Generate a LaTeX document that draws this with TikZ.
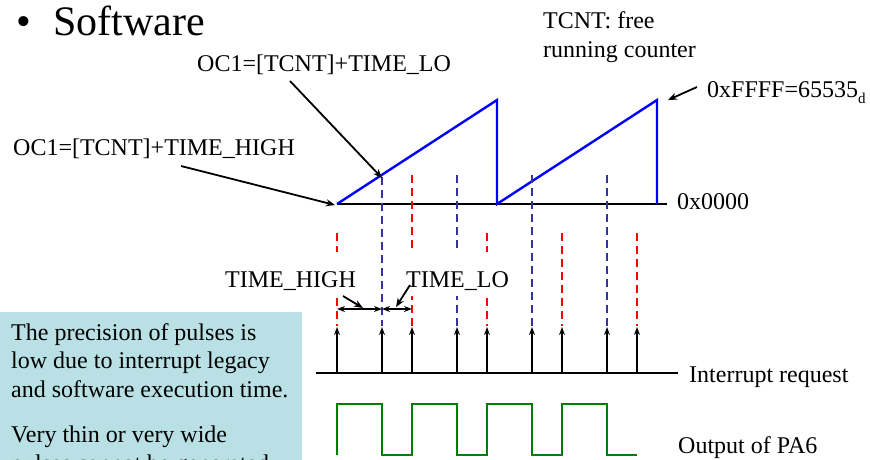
\documentclass[tikz,border=0pt]{standalone}
\usepackage{fontspec}
\setmainfont{Liberation Serif}
\usetikzlibrary{arrows.meta}
\definecolor{boxbg}{RGB}{185,224,228}
\definecolor{sawblue}{RGB}{0,0,255}
\definecolor{dblue}{RGB}{51,51,153}
\definecolor{dred}{RGB}{255,0,0}
\definecolor{wgreen}{RGB}{0,128,0}
\tikzset{
  lbl/.style={font=\fontsize{24}{28.5}\selectfont, inner sep=0pt, anchor=base west, align=left},
  dimlbl/.style={lbl, fill=white, inner xsep=1pt, text height=35pt, text depth=9pt},
  ptr/.style={draw=black, line width=1.8pt, -{Stealth[length=9pt,width=7pt]}},
  dimarrow/.style={draw=black, line width=1.8pt, {Stealth[length=8pt,width=6pt]}-{Stealth[length=8pt,width=6pt]}},
  irq/.style={draw=black, line width=2pt, -{Stealth[length=8pt,width=6pt]}},
  vdash/.style={line width=2pt, dash pattern=on 8pt off 5pt},
  axisline/.style={draw=black, line width=2.4pt},
}
\begin{document}
\begin{tikzpicture}[x=1pt,y=-1pt]
\clip (0,0) rectangle (870,459);
\fill[white] (0,0) rectangle (870,459);

% title
\node[inner sep=0pt, anchor=base west, font=\fontsize{42}{48}\selectfont] (bullet) at (16,35) {•};
\node[inner sep=0pt, anchor=base west, font=\fontsize{42}{48}\selectfont] (title) at (53,35) {Software};

% explanatory box
\fill[boxbg] (0,312) rectangle (302,470);
\node[lbl] (p1) at (11,397) {The precision of pulses is\\low due to interrupt legacy\\and software execution time.};
\node[lbl] (p2) at (11,471) {Very thin or very wide\\pulses cannot be generated.};

% counter axis and sawtooth
\coordinate (s0) at (337,204);
\coordinate (pk1) at (497,100);
\coordinate (z1) at (497,204);
\coordinate (pk2) at (657,100);
\coordinate (z2) at (657,204);
\coordinate (axend) at (667,204);
\draw[axisline] (s0) -- (axend);
\draw[sawblue, line width=2.4pt, line join=miter] (s0) -- (pk1) -- (z1) -- (pk2) -- (z2);
\node[lbl] (zero) at (677,209) {0x0000};

% vertical dashed markers
\foreach \x/\c/\top in {337/dred/233, 382/dblue/177, 412/dred/175, 457/dblue/175, 487/dred/233, 532/dblue/175, 562/dred/233, 607/dblue/175, 637/dred/233}{
  \draw[vdash, \c] (\x,\top) -- (\x,326);
}

% interrupt request line and arrows
\coordinate (ir0) at (316,373);
\coordinate (ir1) at (678,373);
\draw[axisline] (ir0) -- (ir1);
\foreach \x in {337,382,412,457,487,532,562,607,637}{
  \coordinate (ia\x) at (\x,373);
  \coordinate (ib\x) at (\x,327);
  \draw[irq] (ia\x) -- (ib\x);
}
\node[lbl] (irqlbl) at (689,382) {Interrupt request};

% output waveform
\draw[wgreen, line width=2.2pt, line join=miter]
  (337,455) -- (337,404) -- (382,404) -- (382,455) -- (412,455) -- (412,404)
  -- (457,404) -- (457,455) -- (487,455) -- (487,404) -- (532,404) -- (532,455)
  -- (562,455) -- (562,404) -- (607,404) -- (607,455) -- (637,455);
\node[lbl] (outlbl) at (678,453) {Output of PA6};

% labels with pointers
\node[lbl] (oclo) at (197,71) {OC1=[TCNT]+TIME\_LO};
\node[lbl] (ochi) at (13,155) {OC1=[TCNT]+TIME\_HIGH};
\coordinate (oclofrom) at (290,81);
\coordinate (oclotip) at (382,178);
\coordinate (ochifrom) at (181,166);
\coordinate (ochitip) at (335,205);
\draw[ptr] (oclofrom) -- (oclotip);
\draw[ptr] (ochifrom) -- (ochitip);

\node[lbl] (tcnt) at (543,57) {TCNT: free\\running counter};
\node[lbl] (ffff) at (707,97) {0xFFFF=65535\raisebox{-6pt}{\fontsize{15}{15}\selectfont d}};
\coordinate (fffrom) at (697,87);
\coordinate (fftip) at (668,100);
\draw[ptr] (fffrom) -- (fftip);

% TIME_HIGH / TIME_LO dimensions
\coordinate (dA) at (337,309);
\coordinate (dB) at (382,309);
\coordinate (dC) at (412,309);
\draw[dimarrow] (dA) -- (dB);
\draw[dimarrow] (dB) -- (dC);
\node[dimlbl] (thigh) at (224,287) {TIME\_HIGH};
\node[dimlbl] (tlo) at (405,287) {TIME\_LO};
\coordinate (thf) at (343,296);
\coordinate (tht) at (363,308);
\coordinate (tlf) at (410,285);
\coordinate (tlt) at (396,307);
\draw[ptr] (thf) -- (tht);
\draw[ptr] (tlf) -- (tlt);
\end{tikzpicture}
\end{document}
